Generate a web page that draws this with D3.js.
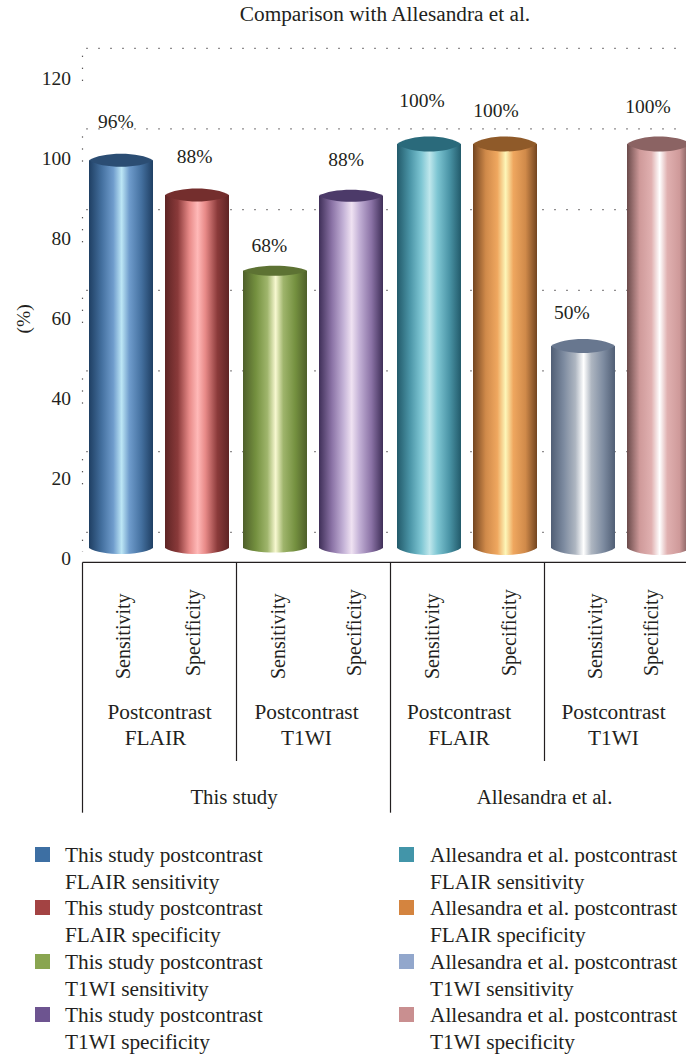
<!DOCTYPE html>
<html><head><meta charset="utf-8">
<script src="https://cdnjs.cloudflare.com/ajax/libs/d3/7.8.5/d3.min.js"></script>
<style>
html,body{margin:0;padding:0;background:#fff}
svg{display:block}
text{font-family:"Liberation Serif",serif;fill:#231f20}
</style></head><body><div id="chart"></div>
<script>
const title = "Comparison with Allesandra et al.";
const yLabel = "(%)";
const yTicks = [0, 20, 40, 60, 80, 100, 120];
const values = [96, 87.4, 68.6, 87.2, 100, 100, 50, 100];
const barLabels = ["96%", "88%", "68%", "88%", "100%", "100%", "50%", "100%"];
const metrics = ["Sensitivity", "Specificity", "Sensitivity", "Specificity", "Sensitivity", "Specificity", "Sensitivity", "Specificity"];
const sequences = [["Postcontrast", "FLAIR"], ["Postcontrast", "T1WI"], ["Postcontrast", "FLAIR"], ["Postcontrast", "T1WI"]];
const studies = ["This study", "Allesandra et al."];
const legendLabels = [
  ["This study postcontrast", "FLAIR sensitivity"],
  ["This study postcontrast", "FLAIR specificity"],
  ["This study postcontrast", "T1WI sensitivity"],
  ["This study postcontrast", "T1WI specificity"],
  ["Allesandra et al. postcontrast", "FLAIR sensitivity"],
  ["Allesandra et al. postcontrast", "FLAIR specificity"],
  ["Allesandra et al. postcontrast", "T1WI sensitivity"],
  ["Allesandra et al. postcontrast", "T1WI specificity"]
];
const swatchColors = ["#3d6fa3", "#a34343", "#89a550", "#6d5490", "#4295a9", "#d4843f", "#92a7cc", "#c98f90"];
const dark = ["#1f3f63", "#5e2424", "#4e5f2a", "#3f2f58", "#225a6a", "#734520", "#505e75", "#6a4a4a"];
const mid = ["#44709f", "#8a3a3a", "#74903f", "#8a72a5", "#4a94a6", "#d08a4a", "#7d8ba0", "#cf9a9a"];
const light = ["#bce6f5", "#ffb9b8", "#f7f8d0", "#efe2f2", "#bfe7ec", "#fdf6b8", "#ffffff", "#ffffff"];
const soft = ["#6f9ccc", "#e88a88", "#9fb56c", "#c3b1d6", "#7ec6d3", "#efa75f", "#aeb6c1", "#e0b0b0"];
const caps = ["#2b4d73", "#742e2d", "#5d7233", "#4c3a69", "#2a6a7b", "#8f5a29", "#68778f", "#8b6363"];

const W = 686, H = 1057;
const textSize = 21.3, numberSize = 19.5, metricSize = 20;
const svg = d3.select("#chart").append("svg").attr("width", W).attr("height", H);

const xGroup = d3.scaleLinear().domain([0, 4]).range([82.5, 698.5]);
const xInner = d3.scaleBand().domain([0, 1]).range([6.5, 146.5]).paddingInner(0.1579).paddingOuter(0);
const xBar = i => xGroup(Math.floor(i / 2)) + xInner(i % 2);
const yBar = d3.scaleLinear().domain([0, 100]).range([548, 144]);
const yGrid = d3.scaleLinear().domain([0, 120]).range([532.3, 48.3]);
const yTickLabel = d3.scaleLinear().domain([0, 120]).range([559, 79]);
const barW = xInner.bandwidth();
const capSag = [6.5, 6.5, 5, 6, 7.5, 7.5, 7, 7.5];
const baseSag = [6, 6, 4.5, 6, 7, 7, 7, 7];

const defs = svg.append("defs");
values.forEach((v, i) => {
  const g = defs.append("linearGradient").attr("id", "cyl" + i);
  [[0, dark[i]], [0.2, mid[i]], [0.38, soft[i]], [0.51, light[i]], [0.63, soft[i]], [0.82, mid[i]], [1, dark[i]]]
    .forEach(([o, c]) => g.append("stop").attr("offset", o).attr("stop-color", c));
});

svg.append("text").attr("x", 385).attr("y", 21).attr("text-anchor", "middle").attr("font-size", textSize).text(title);

const gridG = svg.append("g");
gridG.selectAll("line.h").data(yTicks).join("line")
  .attr("x1", 86.5).attr("x2", 676)
  .attr("y1", d => yGrid(d)).attr("y2", d => yGrid(d))
  .attr("stroke", "#231f20").attr("stroke-width", 1.2).attr("stroke-dasharray", "1 11");
gridG.selectAll("line.d").data(yTicks).join("line")
  .attr("x1", 82.5).attr("x2", 82.5)
  .attr("y1", d => yGrid(d) + 7.5).attr("y2", d => Math.min(yGrid(d) + 33, 552))
  .attr("stroke", "#231f20").attr("stroke-width", 1.2).attr("stroke-dasharray", "1 11");

svg.append("g").selectAll("text").data(yTicks).join("text")
  .attr("x", 71).attr("y", d => yTickLabel(d) + 6).attr("text-anchor", "end").attr("font-size", numberSize).text(d => d);
svg.append("text").attr("transform", "translate(30,319) rotate(-90)").attr("text-anchor", "middle").attr("font-size", numberSize).text(yLabel);

const bars = svg.append("g").selectAll("g").data(values).join("g");
bars.append("path").attr("fill", (d, i) => `url(#cyl${i})`).attr("d", (d, i) => {
  const l = xBar(i), r = l + barW, top = yBar(d), bot = yBar(0), b = baseSag[i] / 0.75;
  return `M${l},${top}L${l},${bot}C${l + barW * 0.2},${bot + b} ${r - barW * 0.2},${bot + b} ${r},${bot}L${r},${top}Z`;
});
bars.append("path").attr("fill", (d, i) => caps[i]).attr("d", (d, i) => {
  const l = xBar(i), r = l + barW, t = yBar(d), b = capSag[i] / 0.75;
  return `M${l},${t}C${l + barW * 0.2},${t - b} ${r - barW * 0.2},${t - b} ${r},${t}` +
         `C${r - barW * 0.2},${t + b} ${l + barW * 0.2},${t + b} ${l},${t}Z`;
});

const labelDx = [-5, -2.5, -5.5, -5, -7, -9, -11, -11];
const labelDy = [-32, -32.3, -19.3, -30, -37, -27, -27, -31];
svg.append("g").selectAll("text").data(values).join("text")
  .attr("x", (d, i) => xBar(i) + barW / 2 + labelDx[i])
  .attr("y", (d, i) => yBar(d) + labelDy[i])
  .attr("text-anchor", "middle").attr("font-size", numberSize).text((d, i) => barLabels[i]);

const axisTop = 562.4;
const axis = svg.append("g").attr("stroke", "#231f20").attr("stroke-width", 1.2);
axis.append("line").attr("x1", 82.5).attr("x2", W).attr("y1", axisTop).attr("y2", axisTop);
axis.selectAll("line.l2").data([1, 3]).join("line")
  .attr("x1", d => xGroup(d)).attr("x2", d => xGroup(d)).attr("y1", axisTop).attr("y2", 761);
axis.selectAll("line.l1").data([0, 2]).join("line")
  .attr("x1", d => xGroup(d)).attr("x2", d => xGroup(d)).attr("y1", axisTop).attr("y2", 812.7);

const metricDx = [9, 3, 10, 10, 10, 10.5, 19, -1];
svg.append("g").selectAll("text").data(metrics).join("text")
  .attr("transform", (d, i) => `translate(${xBar(i) + barW / 2 + metricDx[i]},${d === "Sensitivity" ? 679 : 676}) rotate(-90)`)
  .attr("font-size", metricSize).text(d => d);

const seqDx = [0, -7, -8.5, -8];
sequences.forEach((lines, i) => {
  const cx = (xGroup(i) + xGroup(i + 1)) / 2 + seqDx[i];
  lines.forEach((t, j) => svg.append("text")
    .attr("x", cx + (j === 1 && i === 0 ? -4 : 0)).attr("y", 719 + j * 26)
    .attr("text-anchor", "middle").attr("font-size", textSize).text(t));
});
svg.append("g").selectAll("text").data(studies).join("text")
  .attr("x", (d, i) => (xGroup(i * 2) + xGroup(i * 2 + 2)) / 2 + (i ? 0 : -2.5)).attr("y", 804)
  .attr("text-anchor", "middle").attr("font-size", 20.8).text(d => d);

const legendX = [35, 399], textX = [65, 430];
const legendY = [847, 900, 954, 1007];
legendLabels.forEach((lines, i) => {
  const col = i < 4 ? 0 : 1, row = i % 4;
  svg.append("rect").attr("x", legendX[col]).attr("y", legendY[row]).attr("width", 15).attr("height", 15).attr("fill", swatchColors[i]);
  lines.forEach((t, j) => svg.append("text").attr("x", textX[col]).attr("y", legendY[row] + 15 + j * 26.5).attr("font-size", textSize).text(t));
});
</script></body></html>
